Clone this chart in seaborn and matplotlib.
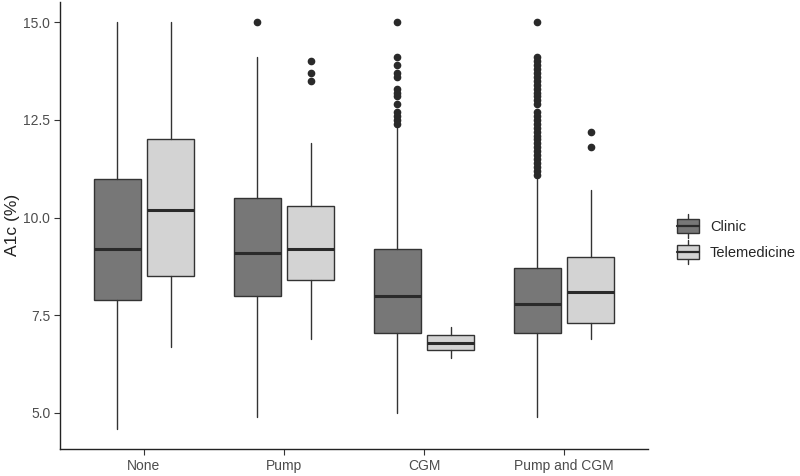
import matplotlib
matplotlib.use("Agg")
import matplotlib.pyplot as plt
import seaborn as sns
from matplotlib.patches import Rectangle
from matplotlib.lines import Line2D
from matplotlib.legend_handler import HandlerBase

# Data (box statistics per group)
categories = ["None", "Pump", "CGM", "Pump and CGM"]
groups = ["Clinic", "Telemedicine"]

clinic_whislo = [4.6, 4.9, 5.0, 4.9]
clinic_q1 = [7.9, 8.0, 7.05, 7.05]
clinic_med = [9.2, 9.1, 8.0, 7.8]
clinic_q3 = [11.0, 10.5, 9.2, 8.7]
clinic_whishi = [15.0, 14.1, 12.3, 11.0]
clinic_fliers = [
    [],
    [15.0],
    [15.0, 14.1, 13.9, 13.7, 13.6, 13.3, 13.2, 13.1, 12.9, 12.7, 12.6, 12.5, 12.4],
    [15.0, 14.1, 14.0, 13.9, 13.8, 13.7, 13.6, 13.5, 13.4, 13.3, 13.2, 13.1,
     13.0, 12.9, 12.7, 12.6, 12.5, 12.4, 12.3, 12.2, 12.1, 12.0, 11.9, 11.8,
     11.7, 11.6, 11.5, 11.4, 11.3, 11.2, 11.1],
]

tele_whislo = [6.7, 6.9, 6.4, 6.9]
tele_q1 = [8.5, 8.4, 6.6, 7.3]
tele_med = [10.2, 9.2, 6.8, 8.1]
tele_q3 = [12.0, 10.3, 7.0, 9.0]
tele_whishi = [15.0, 11.9, 7.2, 10.7]
tele_fliers = [[], [14.0, 13.7, 13.5], [], [12.2, 11.8]]

fills = {"Clinic": "#777777", "Telemedicine": "#d3d3d3"}
edge = "#333333"

sns.set_theme(style="ticks")
plt.rcParams["font.family"] = ["Liberation Sans", "DejaVu Sans"]

fig = plt.figure(figsize=(8, 4.76), dpi=100)
ax = fig.add_axes([0.075, 0.057, 0.735, 0.939])


def make_stats(lo, q1, med, q3, hi, fl):
    return [dict(whislo=a, q1=b, med=c, q3=d, whishi=e, fliers=f)
            for a, b, c, d, e, f in zip(lo, q1, med, q3, hi, fl)]


series = {
    "Clinic": make_stats(clinic_whislo, clinic_q1, clinic_med, clinic_q3, clinic_whishi, clinic_fliers),
    "Telemedicine": make_stats(tele_whislo, tele_q1, tele_med, tele_q3, tele_whishi, tele_fliers),
}
offsets = {"Clinic": -0.19, "Telemedicine": 0.19}

for g in groups:
    ax.bxp(
        series[g],
        positions=[i + offsets[g] for i in range(len(categories))],
        widths=0.335,
        patch_artist=True,
        showcaps=False,
        boxprops=dict(facecolor=fills[g], edgecolor=edge, linewidth=1.0),
        medianprops=dict(color="#2a2a2a", linewidth=2.2, solid_capstyle="butt"),
        whiskerprops=dict(color=edge, linewidth=1.0),
        flierprops=dict(marker="o", markerfacecolor="#2a2a2a",
                        markeredgecolor="#2a2a2a", markersize=4.5),
        manage_ticks=False,
    )

ax.set_xlim(-0.6, 3.6)
ax.set_ylim(4.08, 15.52)
ax.set_xticks(range(len(categories)))
ax.set_xticklabels(categories)
ax.set_yticks([5.0, 7.5, 10.0, 12.5, 15.0])
ax.set_yticklabels(["5.0", "7.5", "10.0", "12.5", "15.0"])
ax.tick_params(axis="both", labelsize=10, labelcolor="#4d4d4d",
               color="#333333", length=4, width=0.8, pad=3)
ax.set_xlabel("")
ax.set_ylabel("A1c (%)", fontsize=12.5, color="#222222")
ax.yaxis.set_label_coords(-0.068, 0.5)
sns.despine(ax=ax)
for s in ["left", "bottom"]:
    ax.spines[s].set_color("#222222")
    ax.spines[s].set_linewidth(1.0)


class BoxKeyHandler(HandlerBase):
    def create_artists(self, legend, orig_handle, xdescent, ydescent,
                       width, height, fontsize, trans):
        w = 16
        h = 10
        x0 = -xdescent + (width - w) / 2
        y0 = -ydescent + (height - h) / 2
        cx = x0 + w / 2
        cy = y0 + h / 2
        rect = Rectangle((x0, y0), w, h, facecolor=orig_handle.get_facecolor(),
                         edgecolor=edge, linewidth=1.0, transform=trans)
        med = Line2D([x0, x0 + w], [cy, cy], color="#2a2a2a", linewidth=1.6, transform=trans)
        w1 = Line2D([cx, cx], [y0 + h, y0 + h + 3.5], color=edge, linewidth=1.0, transform=trans)
        w2 = Line2D([cx, cx], [y0 - 3.5, y0], color=edge, linewidth=1.0, transform=trans)
        return [w1, w2, rect, med]


handles = [Rectangle((0, 0), 1, 1, facecolor=fills[g]) for g in groups]
fig.legend(handles, groups, handler_map={Rectangle: BoxKeyHandler()},
           loc="center left", bbox_to_anchor=(0.846, 0.496), frameon=False,
           fontsize=10.5, handlelength=1.52, handleheight=1.0, labelspacing=0.8,
           handletextpad=0.76, borderpad=0, borderaxespad=0)

fig.savefig("out.png", dpi=100)
